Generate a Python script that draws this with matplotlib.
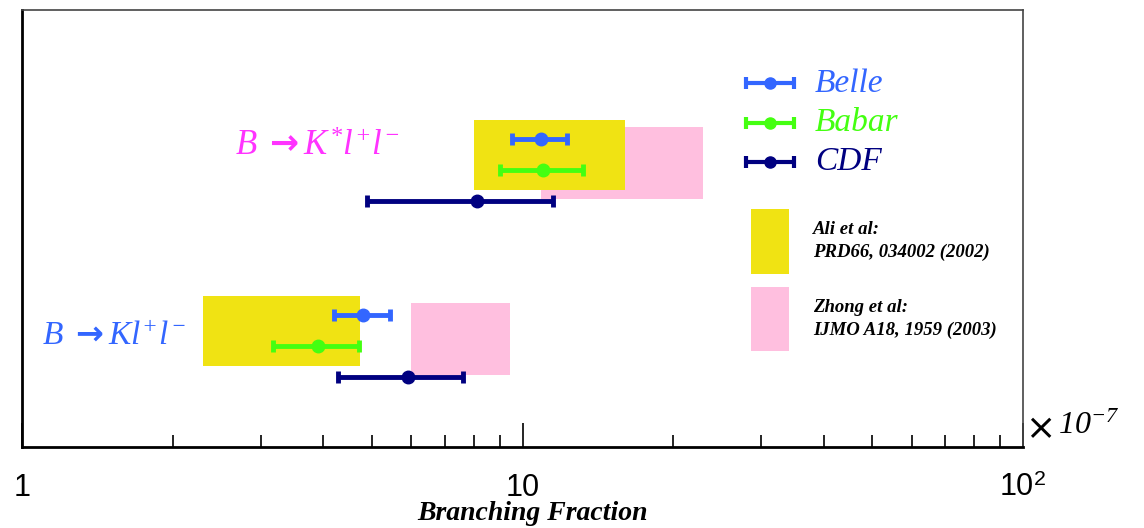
import numpy as np
import matplotlib
matplotlib.use("Agg")
from matplotlib import pyplot as plt
from matplotlib.patches import Rectangle
from matplotlib.ticker import FixedLocator, FixedFormatter, LogLocator, NullFormatter

plt.rcParams["mathtext.fontset"] = "custom"
plt.rcParams["mathtext.it"] = "Liberation Serif:italic"
plt.rcParams["mathtext.rm"] = "Liberation Serif:italic"

# branching fractions in units of 1e-7: (central, low, high)
experiments = ["Belle", "Babar", "CDF"]
exp_colors = ["#3366ff", "#44ff11", "#000080"]

kstar_val = [10.9, 11.0, 8.1]
kstar_lo = [9.55, 9.0, 4.9]
kstar_hi = [12.3, 13.2, 11.5]
kstar_y = [7.05, 6.34, 5.63]

k_val = [4.8, 3.9, 5.9]
k_lo = [4.2, 3.18, 4.28]
k_hi = [5.44, 4.72, 7.6]
k_y = [3.02, 2.31, 1.60]

# theory predictions: (x_lo, x_hi, y_lo, y_hi)
theory = ["Ali et al:\nPRD66, 034002 (2002)", "Zhong et al:\nIJMO A18, 1959 (2003)"]
theory_colors = ["#f0e313", "#ffbfdf"]
kstar_boxes = [(8.0, 16.0, 5.88, 7.48), (10.9, 22.9, 5.68, 7.32)]
k_boxes = [(2.3, 4.74, 1.85, 3.46), (6.0, 9.46, 1.65, 3.30)]

fig = plt.figure(figsize=(11.44, 5.28), dpi=100)
ax = fig.add_axes([22 / 1144, 81 / 528, 1001 / 1144, 437 / 528])
ax.set_xscale("log")
ax.set_xlim(1, 100)
ax.set_ylim(0, 10)

# theory bands (pink drawn first so yellow sits on top)
for boxes in (kstar_boxes, k_boxes):
    for (x0, x1, y0, y1), c in reversed(list(zip(boxes, theory_colors))):
        ax.add_patch(Rectangle((x0, y0), x1 - x0, y1 - y0, color=c, lw=0, zorder=1))

for vals, los, his, ys in ((kstar_val, kstar_lo, kstar_hi, kstar_y), (k_val, k_lo, k_hi, k_y)):
    for v, lo, hi, y, c in zip(vals, los, his, ys, exp_colors):
        ax.errorbar(v, y, xerr=[[v - lo], [hi - v]], fmt="o", color=c, ms=9,
                    elinewidth=3.5, capsize=4, capthick=3.5, zorder=3)

ax.text(0.213, 0.69, r"$B\ \mathbf{\rightarrow}K^{*}l^{+}l^{-}$", transform=ax.transAxes,
        color="#ff33ff", fontsize=25, ha="left", va="center")
ax.text(0.020, 0.255, r"$B\ \mathbf{\rightarrow}Kl^{+}l^{-}$", transform=ax.transAxes,
        color="#3366ff", fontsize=24, ha="left", va="center")

# legend, drawn by hand in axes coordinates
leg_x0, leg_x1, leg_tx = 0.723, 0.771, 0.792
for i, (name, c) in enumerate(zip(experiments, exp_colors)):
    yy = 0.832 - i * 0.09
    ax.errorbar((leg_x0 + leg_x1) / 2, yy, xerr=(leg_x1 - leg_x0) / 2, fmt="o",
                color=c, ms=8, elinewidth=3, capsize=4, capthick=3,
                transform=ax.transAxes, zorder=3)
    ax.text(leg_tx, yy, name, transform=ax.transAxes, color=c, fontsize=24,
            family="Liberation Serif", style="italic", ha="left", va="center")

for i, (name, c) in enumerate(zip(theory, theory_colors)):
    ytop = 0.545 - i * 0.178
    ax.add_patch(Rectangle((0.728, ytop - 0.148), 0.038, 0.148, color=c, lw=0,
                           transform=ax.transAxes))
    ax.text(0.790, ytop - 0.074, name, transform=ax.transAxes, color="black",
            fontsize=13.5, family="Liberation Serif", style="italic", weight="bold",
            ha="left", va="center", linespacing=1.4)

# axis styling
ax.set_yticks([])
ax.xaxis.set_major_locator(FixedLocator([1, 10, 100]))
ax.xaxis.set_major_formatter(FixedFormatter(["1", "10", r"10$^\mathregular{2}$"]))
ax.xaxis.set_minor_locator(LogLocator(base=10, subs=np.arange(2, 10)))
ax.xaxis.set_minor_formatter(NullFormatter())
ax.tick_params(axis="x", which="major", direction="in", length=17, width=1.2,
               pad=19, labelsize=22, labelfontfamily="Liberation Sans")
ax.tick_params(axis="x", which="minor", direction="in", length=9, width=1.2)
ax.tick_params(axis="x", top=False, which="both")
for side in ("bottom", "left"):
    ax.spines[side].set_linewidth(2)
for side in ("top", "right"):
    ax.spines[side].set_linewidth(1.2)
    ax.spines[side].set_color("#444444")

fig.text(533 / 1144, 1 - 514 / 528, "Branching Fraction", fontsize=20,
         family="Liberation Serif", style="italic", weight="bold",
         ha="center", va="center")
fig.text(1025 / 1144, 1 - 429 / 528, "\u00d7", fontsize=26, ha="left",
         va="center", family="DejaVu Sans")
fig.text(1058 / 1144, 1 - 425 / 528, r"$10^{-7}$", fontsize=23, ha="left", va="center")

plt.savefig("out.png", dpi=100)
